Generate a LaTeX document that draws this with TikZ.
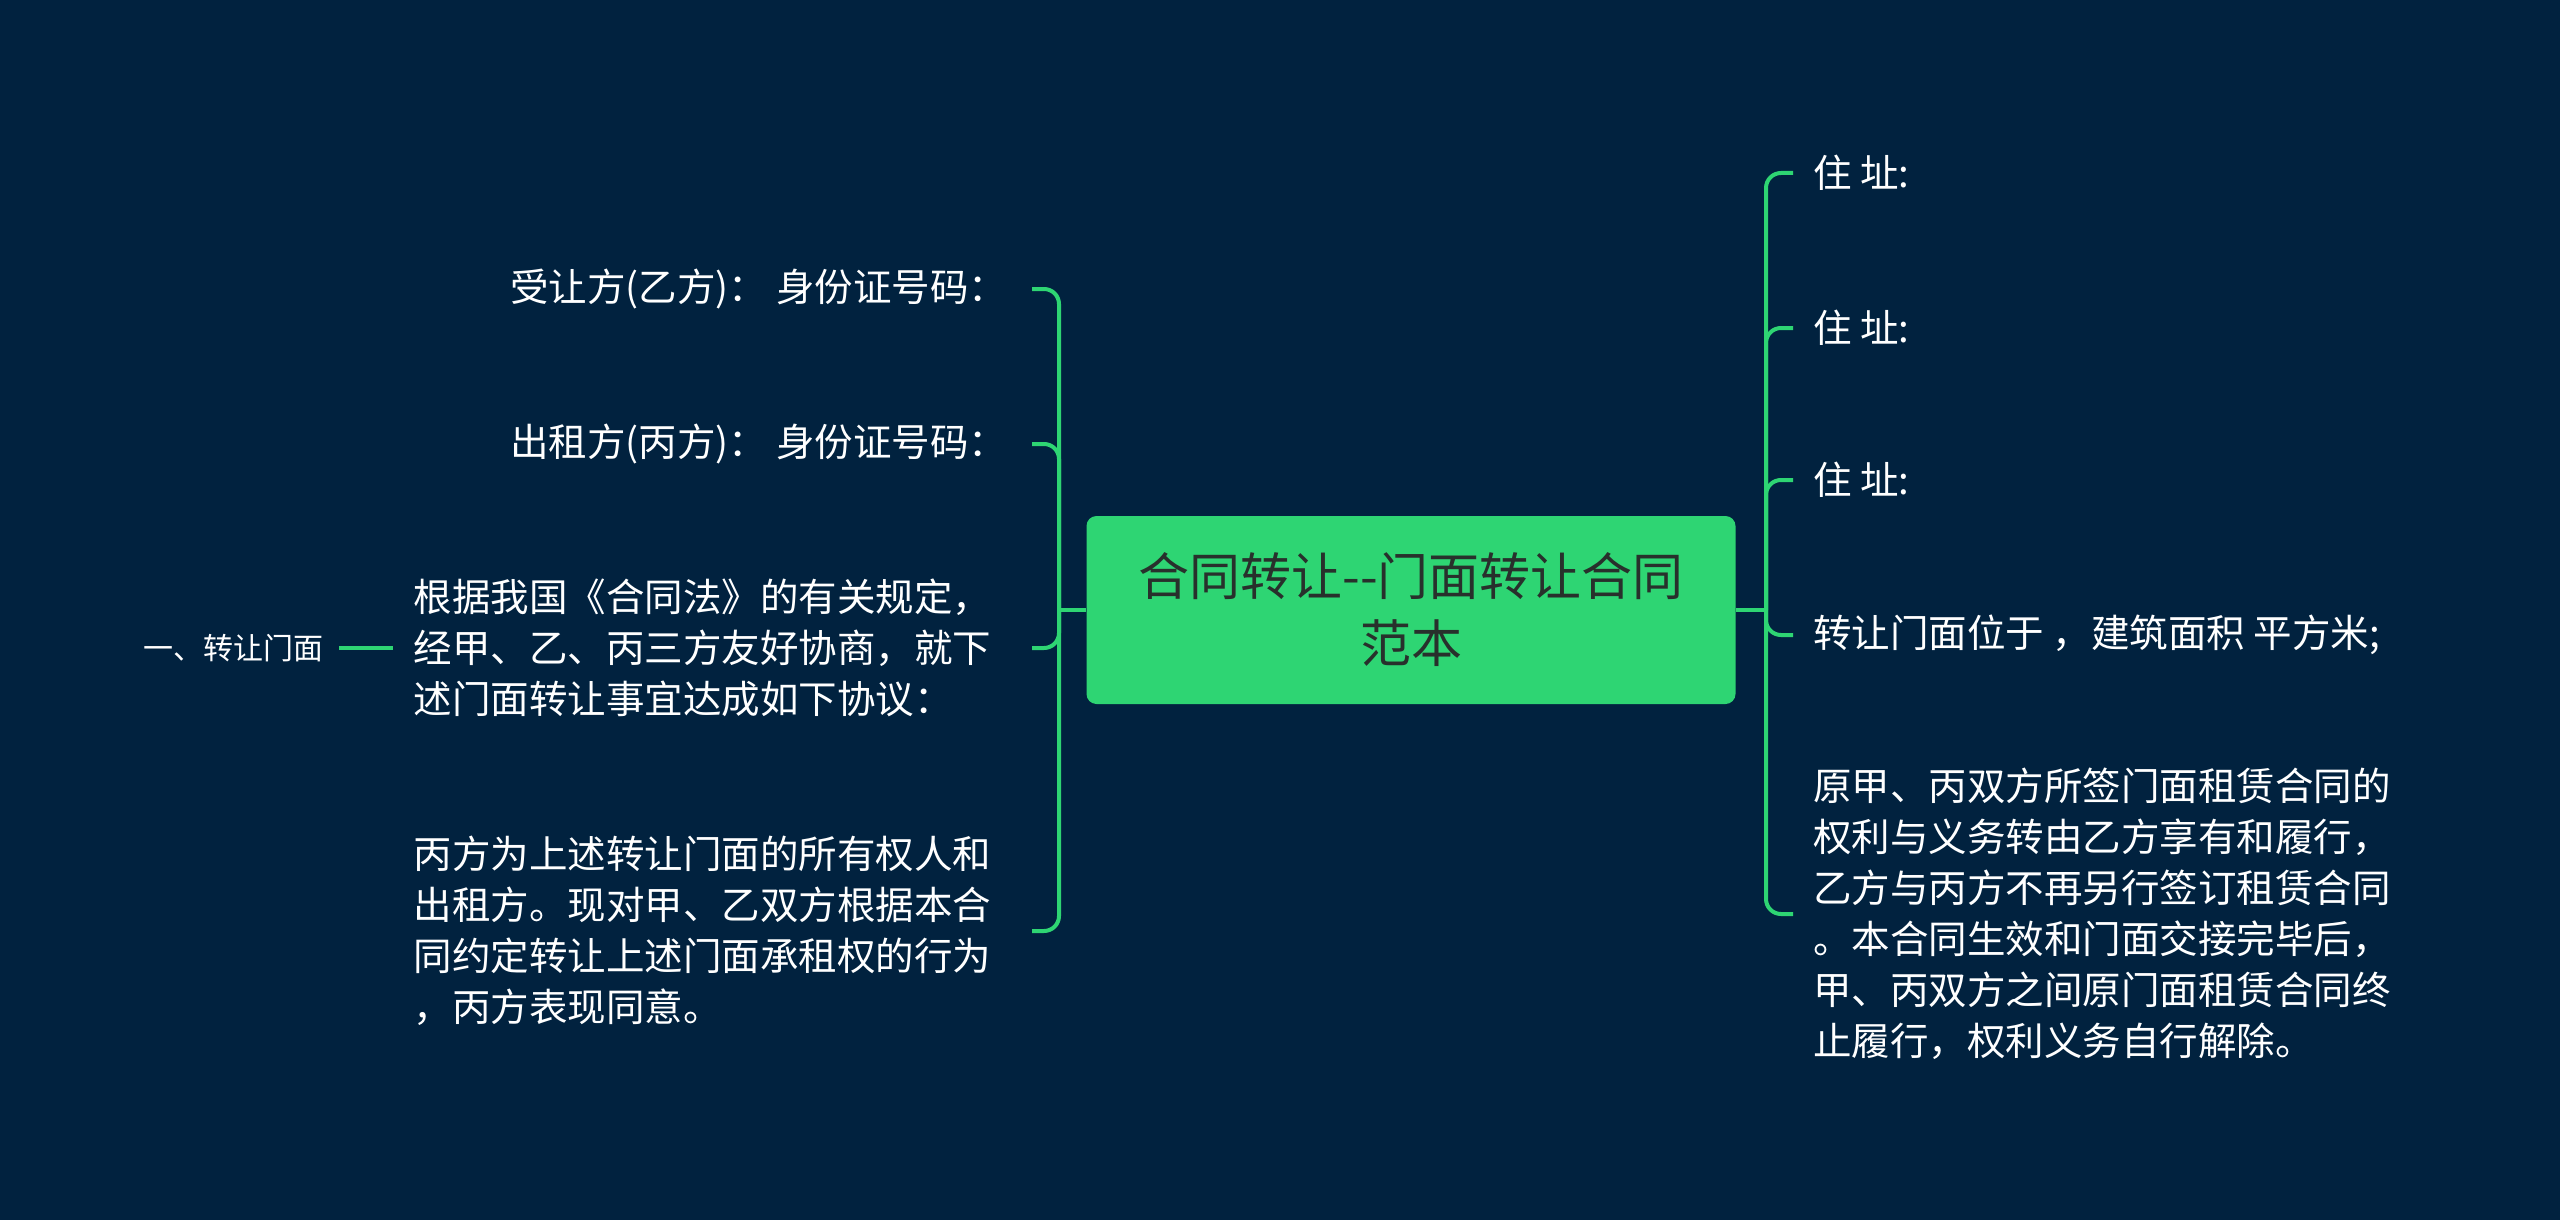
\documentclass[tikz,border=0pt]{standalone}
\usepackage{fontspec}
\setmainfont{Noto Sans CJK SC}
\definecolor{bg}{RGB}{1,34,63}
\definecolor{gr}{RGB}{46,213,115}
\definecolor{dk}{RGB}{40,48,44}
\begin{document}
\begin{tikzpicture}[x=1pt,y=-1pt,
  leaf/.style={text=white,font=\fontsize{38.5}{51}\selectfont,inner sep=0pt},
  lleaf/.style={leaf,anchor=east,outer xsep=41pt,align=left},
  rleaf/.style={leaf,anchor=west,outer xsep=20pt,align=left},
  conn/.style={draw=gr,line width=4pt,rounded corners=15pt}]
\fill[bg] (0,0) rectangle (2560,1220);
\useasboundingbox (0,0) rectangle (2560,1220);

\node[fill=gr,rounded corners=10pt,minimum width=649pt,minimum height=188pt,
  text=dk,align=center,font=\fontsize{51}{67}\selectfont,inner sep=0pt]
  (root) at (1411,610) {合同转让-{}-门面转让合同\\范本};

\node[lleaf,align=right,outer xsep=25pt] (l1) at (1032,289) {受让方(乙方)： 身份证号码：};
\node[lleaf,align=right,outer xsep=25pt] (l2) at (1032,444) {出租方(丙方)： 身份证号码：};
\node[lleaf] (l3) at (1032,648) {根据我国《合同法》的有关规定，\\经甲、乙、丙三方友好协商，就下\\述门面转让事宜达成如下协议：};
\node[lleaf] (l4) at (1032,931) {丙方为上述转让门面的所有权人和\\出租方。现对甲、乙双方根据本合\\同约定转让上述门面承租权的行为\\，丙方表现同意。};

\node[text=white,font=\fontsize{30}{38}\selectfont,inner sep=0pt,outer xsep=16pt] (c) at (233,648) {一、转让门面};

\node[rleaf] (r1) at (1793,173) {住 址:};
\node[rleaf] (r2) at (1793,328) {住 址:};
\node[rleaf] (r3) at (1793,480) {住 址:};
\node[rleaf] (r4) at (1793,635) {转让门面位于 ，建筑面积 平方米;};
\node[rleaf] (r5) at (1793,914) {原甲、丙双方所签门面租赁合同的\\权利与义务转由乙方享有和履行，\\乙方与丙方不再另行签订租赁合同\\。本合同生效和门面交接完毕后，\\甲、丙双方之间原门面租赁合同终\\止履行，权利义务自行解除。};

\coordinate (jl) at (1059,610);
\coordinate (jr) at (1766,610);
\draw[conn] (root.west) -- (jl);
\foreach \n in {l1,l2,l3,l4} \draw[conn] (jl) |- (\n.east);
\draw[conn] (root.east) -- (jr);
\foreach \n in {r1,r2,r3,r4,r5} \draw[conn] (jr) |- (\n.west);
\draw[conn] (c.east) -- ([xshift=20pt]l3.west);
\end{tikzpicture}
\end{document}
